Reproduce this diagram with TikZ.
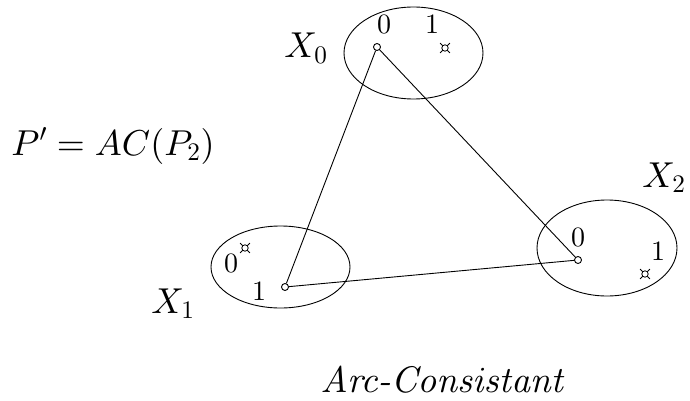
\documentclass[tikz,border=0pt]{standalone}
\DeclareFontShape{OML}{cmm}{m}{it}{<->cmmi10}{}
\DeclareFontShape{OT1}{cmr}{m}{n}{<->cmr10}{}
\DeclareFontShape{OT1}{cmr}{m}{it}{<->cmti10}{}
\DeclareFontShape{OMS}{cmsy}{m}{n}{<->cmsy10}{}
\newcommand{\cmfont}{\fontencoding{OT1}\fontfamily{cmr}}
\begin{document}
\begin{tikzpicture}[x=1pt,y=-1pt,line width=0.9pt,
  val/.style={draw,circle,inner sep=0pt,minimum size=7pt,fill=white},
  big/.style={font=\cmfont\fontsize{36}{42}\selectfont,inner sep=0pt},
  dig/.style={font=\cmfont\fontsize{28}{34}\selectfont,inner sep=0pt}]
\useasboundingbox (0,0) rectangle (690,401);
\tikzset{nog/.pic={\draw[line width=0.8pt] (0,0) circle (3.2pt);
  \foreach \a in {45,135,225,315}{\draw[line width=0.8pt] (\a:3.2pt) -- (\a:7pt);}}}
% domains
\draw (413.5,53) ellipse (69.5 and 46);
\draw (280.5,267) ellipse (69.5 and 41);
\draw (607,248) ellipse (70 and 48);
% values
\node[val] (a0) at (377,47) {};
\node[val] (b1) at (285,287) {};
\node[val] (c0) at (578,260) {};
\draw (a0) -- (b1);
\draw (a0) -- (c0);
\draw (b1) -- (c0);
\pic at (445,48) {nog};
\pic at (245,248) {nog};
\pic at (645,274) {nog};
% digits
\node[dig] (l00) at (384,24) {0};
\node[dig] (l01) at (432,24) {1};
\node[dig] (l10) at (231,263) {0};
\node[dig] (l11) at (259,291) {1};
\node[dig] (l20) at (578,237) {0};
\node[dig] (l21) at (658,251) {1};
% labels
\node[big,anchor=base west] (x0) at (284,58) {$X_0$};
\node[big,anchor=base west] (x1) at (151,313) {$X_1$};
\node[big,anchor=base west] (x2) at (642,187) {$X_2$};
\node[big,anchor=base west] (p) at (11,155) {$P' = AC(P_2)$};
\node[big,anchor=base west,font=\cmfont\fontsize{37}{42}\selectfont\itshape] (ac) at (320,392) {Arc-Consistant};
\end{tikzpicture}
\end{document}
